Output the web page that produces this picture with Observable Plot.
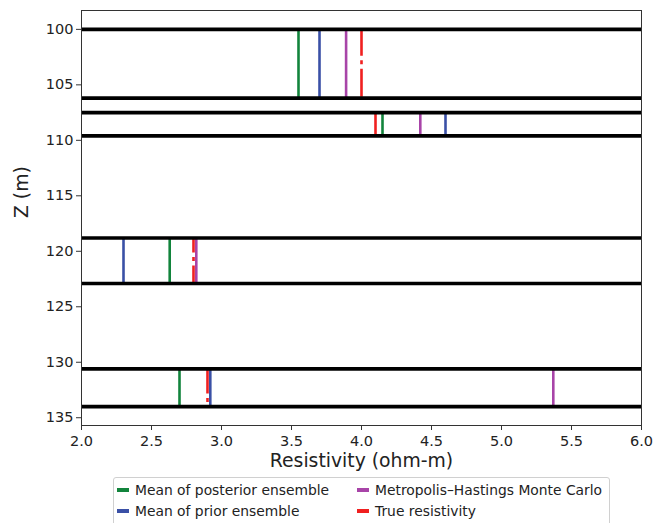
<!DOCTYPE html>
<html>
<head>
<meta charset="utf-8">
<script src="https://cdn.jsdelivr.net/npm/d3@7"></script>
<script src="https://cdn.jsdelivr.net/npm/@observablehq/plot@0.6"></script>
<style>
  body { margin: 0; background: #fff; font-family: "DejaVu Sans", sans-serif; }
  #wrap { width: 666px; }
  #wrap svg { display: block; }
  #legend {
    margin-left: 113px; margin-top: 1px; width: 497px; height: 60px;
    border: 1px solid #d0d0d0; border-radius: 3px; box-sizing: border-box;
    display: grid; grid-template-columns: 240px 253px; grid-auto-rows: 20.5px;
    padding-top: 2px; font-size: 13.85px; color: #222;
  }
  .item { display: flex; align-items: center; white-space: nowrap; }
  .sw { display: inline-block; width: 12px; height: 4px; margin-left: 3px; margin-right: 6px; }
</style>
</head>
<body>
<div id="wrap"></div>
<script>
// Layer boundaries (m)
const layerTop = [100, 107.5, 118.8, 130.6];
const layerBottom = [106.2, 109.6, 122.9, 134.0];
// Resistivity per layer (ohm-m)
const posteriorMean = [3.55, 4.15, 2.63, 2.70];
const priorMean = [3.70, 4.60, 2.30, 2.92];
const mhmc = [3.89, 4.42, 2.82, 5.37];
const trueRes = [4.00, 4.10, 2.80, 2.90];

const seriesNames = ["Mean of posterior ensemble", "Mean of prior ensemble", "Metropolis–Hastings Monte Carlo", "True resistivity"];
const seriesColors = ["#12843c", "#3a50a6", "#a844a8", "#f02020"];
const xTicks = [2.0, 2.5, 3.0, 3.5, 4.0, 4.5, 5.0, 5.5, 6.0];
const yTicks = [100, 105, 110, 115, 120, 125, 130, 135];
// dash phase of the dash-dot line in each layer (style only)
const dashPhase = [1, 0, 13, 3];

const boundaries = [...layerTop, ...layerBottom];
const seriesVals = [posteriorMean, priorMean, mhmc, trueRes];
const rows = [];
seriesVals.forEach((vals, s) => vals.forEach((v, i) => rows.push({s, i, x: v, y1: layerTop[i], y2: layerBottom[i]})));

const vertMarks = [0, 1, 2].map(s =>
  Plot.ruleX(rows.filter(r => r.s === s), {
    x: "x", y1: "y1", y2: "y2",
    stroke: seriesColors[s], strokeWidth: 2.6
  })
);
const trueMarks = layerTop.map((_, i) =>
  Plot.ruleX(rows.filter(r => r.s === 3 && r.i === i), {
    x: "x", y1: "y1", y2: "y2",
    stroke: seriesColors[3], strokeWidth: 2.6,
    strokeDasharray: "28,4.5,4,4.5", strokeDashoffset: dashPhase[i]
  })
);

const chart = Plot.plot({
  width: 666, height: 476,
  marginLeft: 81, marginRight: 25, marginTop: 10, marginBottom: 51,
  style: { fontFamily: "DejaVu Sans, sans-serif", fontSize: "14px", color: "#222", background: "#fff" },
  x: { domain: [2, 6] },
  y: { domain: [98.3, 135.7], reverse: true },
  marks: [
    ...vertMarks,
    ...trueMarks,
    Plot.ruleY(boundaries, { stroke: "#000", strokeWidth: 3.6 }),
    Plot.frame({ stroke: "#333", strokeWidth: 1 }),
    Plot.axisX({ ticks: xTicks, tickFormat: d3.format(".1f"), tickSize: 5, tickPadding: 5, label: null, fontSize: 14.5, stroke: "#333" }),
    Plot.axisY({ ticks: yTicks, tickSize: 5, tickPadding: 3, label: null, fontSize: 14.5, stroke: "#333" }),
    Plot.text(["Resistivity (ohm-m)"], { frameAnchor: "bottom", dy: 41, text: d => d, fontSize: 18.8, fill: "#222" }),
    Plot.text(["Z (m)"], { frameAnchor: "left", dx: -60, rotate: -90, text: d => d, fontSize: 18.8, fill: "#222" })
  ]
});
const wrap = document.getElementById("wrap");
wrap.appendChild(chart);

const leg = document.createElement("div");
leg.id = "legend";
[0, 2, 1, 3].forEach(s => {
  const it = document.createElement("div");
  it.className = "item";
  const sw = document.createElement("span");
  sw.className = "sw";
  sw.style.background = seriesColors[s];
  it.appendChild(sw);
  it.appendChild(document.createTextNode(seriesNames[s]));
  leg.appendChild(it);
});
wrap.appendChild(leg);
</script>
</body>
</html>
